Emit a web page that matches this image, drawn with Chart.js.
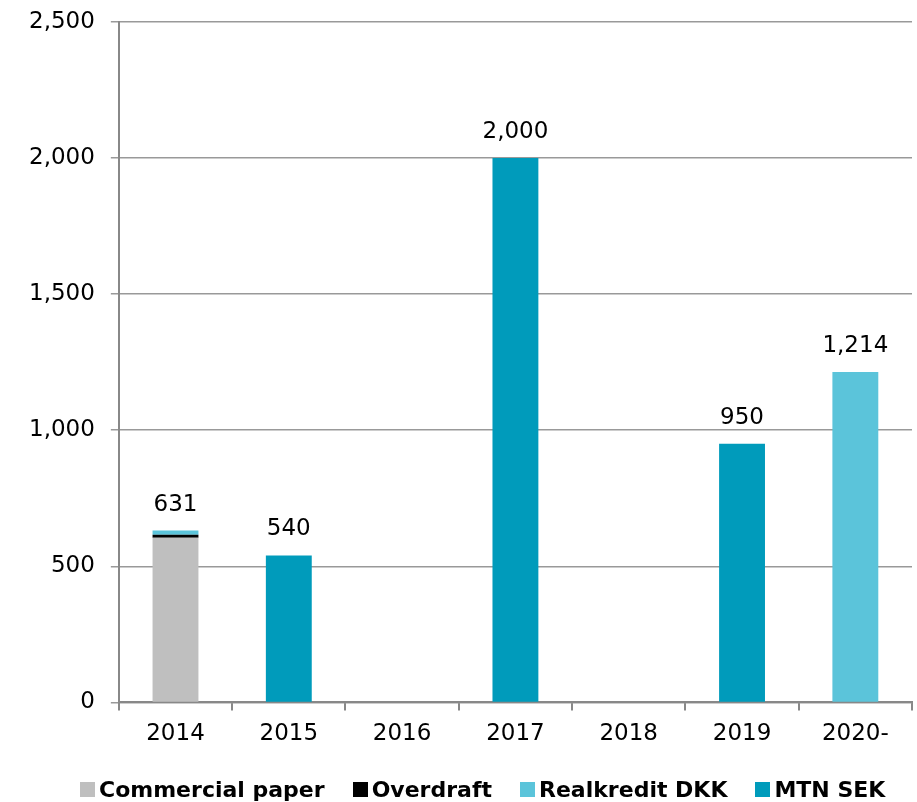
<!DOCTYPE html>
<html>
<head>
<meta charset="utf-8">
<script src="https://cdn.jsdelivr.net/npm/chart.js@4"></script>
<style>
html,body{margin:0;padding:0;background:#fff;}
#wrap{width:917px;height:802px;position:relative;overflow:hidden;}
#legend{position:absolute;left:80px;top:776px;height:26px;display:flex;align-items:center;
  font-family:'DejaVu Sans',Verdana,sans-serif;font-weight:bold;font-size:22px;color:#000;white-space:nowrap;}
.item{display:flex;align-items:center;margin-right:28px;}
.box{width:15px;height:15px;margin-right:4px;}
.item:nth-child(3) span{display:inline-block;min-width:187px;}
</style>
</head>
<body>
<div id="wrap"><canvas id="c" width="917" height="802"></canvas><div id="legend"></div></div>
<script>
const categories = ["2014","2015","2016","2017","2018","2019","2020-"];
const commercialPaper = [605, null, null, null, null, null, null];
const overdraft = [11, null, null, null, null, null, null];
const realkreditDKK = [15, null, null, null, null, null, 1214];
const mtnSEK = [null, 540, null, 2000, null, 950, null];
const seriesNames = ["Commercial paper","Overdraft","Realkredit DKK","MTN SEK"];
const yTicks = [0, 500, 1000, 1500, 2000, 2500];

const colors = ["#BFBFBF","#000000","#5BC4DA","#009BBB"];
const FONT = "'DejaVu Sans', Verdana, sans-serif";

// HTML legend (real text)
const lg = document.getElementById('legend');
seriesNames.forEach((n, i) => {
  const it = document.createElement('div'); it.className = 'item';
  const b = document.createElement('div'); b.className = 'box'; b.style.background = colors[i];
  const t = document.createElement('span'); t.textContent = n;
  it.appendChild(b); it.appendChild(t); lg.appendChild(it);
});

const totalsPlugin = {
  id: 'totals',
  afterDatasetsDraw(chart) {
    const ctx = chart.ctx;
    const y = chart.scales.y;
    const x = chart.scales.x;
    ctx.save();
    ctx.font = "23px " + FONT;
    ctx.fillStyle = "#000";
    ctx.textAlign = "center";
    ctx.textBaseline = "middle";
    categories.forEach((c, i) => {
      let total = 0;
      chart.data.datasets.forEach(ds => { total += ds.data[i] || 0; });
      if (total > 0) {
        const px = x.getPixelForValue(i);
        const py = y.getPixelForValue(total);
        ctx.fillText(total.toLocaleString('en-US'), px, py - 26);
      }
    });
    ctx.restore();
  }
};

new Chart(document.getElementById('c'), {
  type: 'bar',
  data: {
    labels: categories,
    datasets: [
      {label: seriesNames[0], data: commercialPaper, backgroundColor: colors[0]},
      {label: seriesNames[1], data: overdraft, backgroundColor: colors[1]},
      {label: seriesNames[2], data: realkreditDKK, backgroundColor: colors[2]},
      {label: seriesNames[3], data: mtnSEK, backgroundColor: colors[3]}
    ]
  },
  options: {
    responsive: false,
    animation: false,
    layout: {padding: {top: 20, right: 5, left: 13, bottom: 44}},
    datasets: {bar: {categoryPercentage: 1.0, barPercentage: 0.405, borderWidth: 0}},
    scales: {
      x: {
        stacked: true,
        offset: true,
        grid: {offset: true, drawOnChartArea: false, drawTicks: true, tickLength: 8, color: '#888', lineWidth: 2},
        border: {color: '#888', width: 2},
        ticks: {font: {family: FONT, size: 23}, color: '#000', padding: 10}
      },
      y: {
        stacked: true,
        min: 0, max: 2500,
        afterBuildTicks(axis) { axis.ticks = yTicks.map(v => ({value: v})); },
        grid: {color: '#999', lineWidth: 1.5, drawTicks: true, tickLength: 8},
        border: {color: '#888', width: 2},
        ticks: {font: {family: FONT, size: 23, lineHeight: 0.5}, color: '#000', padding: 16,
          callback: v => v.toLocaleString('en-US')}
      }
    },
    plugins: {
      legend: {display: false},
      tooltip: {enabled: false}
    }
  },
  plugins: [totalsPlugin]
});
</script>
</body>
</html>
